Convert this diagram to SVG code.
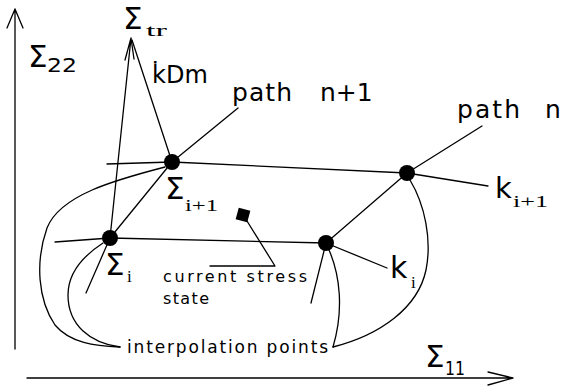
<svg xmlns="http://www.w3.org/2000/svg" width="561" height="390" viewBox="0 0 561 390">
<style>
.ln{fill:none;stroke:#000;stroke-width:1.3;stroke-linejoin:round;stroke-linecap:round}
.nd{fill:#000}
.sg{font-family:"DejaVu Sans","Liberation Sans",sans-serif;font-size:31px;fill:#000}
.ss{font-family:"DejaVu Sans","Liberation Sans",sans-serif;fill:#000}
.sr{font-family:"Liberation Serif","DejaVu Serif",serif;fill:#000}
</style>
<rect width="561" height="390" fill="#fff"/>
<g id="connectors">
<path class="ln" d="M15,349 V9 M7,28 L15,9 L23,28"/>
<path class="ln" d="M27,378 H513 M488,372 L513,378 L488,385"/>
<path class="ln" d="M110,238 L131,38 M125,60 L131,38 L134,59"/>
<path class="ln" d="M132,40 L172,162"/>
<path class="ln" d="M238,108 L172,162 L110,238 L86,293"/>
<path class="ln" d="M482,126 L407,173 L326,243 L311,303"/>
<path class="ln" d="M107,164 L172,162 L407,173 L488,186"/>
<path class="ln" d="M55,242 L110,238 L326,243 L387,268"/>
<path class="ln" d="M165,167 C115,180 60,195 47,228 C35,262 38,300 55,325 C70,343 95,346 120,347"/>
<path class="ln" d="M103,243 C80,258 68,275 68,295 C68,325 90,343 120,347"/>
<path class="ln" d="M410,180 C425,205 432,240 426,270 C418,308 380,335 333,347"/>
<path class="ln" d="M329,250 C340,275 344,310 333,347"/>
<path class="ln" d="M247,221 L275,266 L210,266"/>
</g>
<g id="node-sigma-i1"><circle class="nd" cx="172" cy="162" r="8"/></g>
<g id="node-sigma-i"><circle class="nd" cx="110" cy="238" r="8"/></g>
<g id="node-k-i"><circle class="nd" cx="326" cy="243" r="8"/></g>
<g id="node-k-i1"><circle class="nd" cx="407" cy="173" r="8"/></g>
<g id="node-current"><rect class="nd" x="237" y="209" width="12" height="12" transform="rotate(15 243 215)"/></g>
<g id="labels">
<text class="sg" x="28" y="67" font-size="26">Σ</text><text class="ss" x="47" y="72" font-size="19" textLength="30" lengthAdjust="spacingAndGlyphs">22</text>
<text class="sg" x="425" y="367" font-size="30">Σ</text><text class="ss" x="445" y="375" font-size="19" textLength="20" lengthAdjust="spacingAndGlyphs">11</text>
<text class="sg" x="123" y="29" font-size="27">Σ</text><text class="sr" x="146" y="36" font-size="17" textLength="21" lengthAdjust="spacingAndGlyphs">tr</text>
<text class="ss" x="152" y="83" font-size="24">k̇Dm</text>
<text class="ss" x="232" y="101" font-size="25"><tspan textLength="60">path</tspan><tspan x="320">n+1</tspan></text>
<text class="ss" x="457" y="118" font-size="25"><tspan textLength="63">path</tspan><tspan x="545">n</tspan></text>
<text class="sg" x="165" y="199">Σ</text><text class="sr" x="185" y="211" font-size="17" textLength="33" lengthAdjust="spacingAndGlyphs">i+1</text>
<text class="sg" x="105" y="275">Σ</text><text class="sr" x="127" y="282" font-size="17">i</text>
<text class="ss" x="390" y="278" font-size="30">k</text><text class="sr" x="411" y="288" font-size="17">i</text>
<text class="ss" x="495" y="198" font-size="29">k</text><text class="sr" x="513" y="207" font-size="17" textLength="35" lengthAdjust="spacingAndGlyphs">i+1</text>
<text class="ss" x="163" y="282" font-size="16" textLength="144">current stress</text>
<text class="ss" x="163" y="304" font-size="16" textLength="46">state</text>
<text class="ss" x="127" y="353" font-size="17" textLength="201">interpolation points</text>
</g>
</svg>
